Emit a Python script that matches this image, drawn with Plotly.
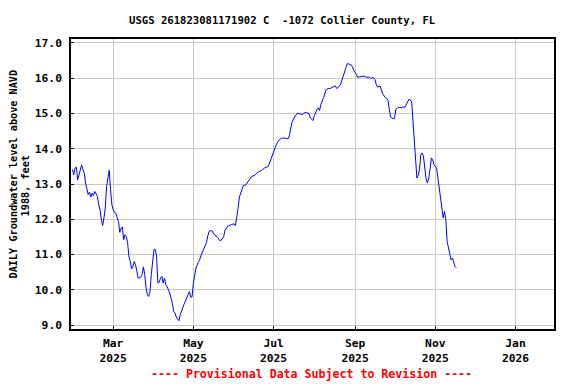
import plotly.graph_objects as go

# Daily groundwater level (feet above NAVD 1988)
dates = [
    "2025-01-29", "2025-01-30", "2025-01-31", "2025-02-01", "2025-02-02", "2025-02-03", "2025-02-04",
    "2025-02-05", "2025-02-06", "2025-02-07", "2025-02-08", "2025-02-09", "2025-02-10", "2025-02-11",
    "2025-02-12", "2025-02-13", "2025-02-14", "2025-02-15", "2025-02-16", "2025-02-17", "2025-02-18",
    "2025-02-19", "2025-02-20", "2025-02-21", "2025-02-22", "2025-02-23", "2025-02-24", "2025-02-25",
    "2025-02-26", "2025-02-27", "2025-02-28", "2025-03-01", "2025-03-02", "2025-03-03", "2025-03-04",
    "2025-03-05", "2025-03-06", "2025-03-07", "2025-03-08", "2025-03-09", "2025-03-10", "2025-03-11",
    "2025-03-12", "2025-03-13", "2025-03-14", "2025-03-15", "2025-03-16", "2025-03-17", "2025-03-18",
    "2025-03-19", "2025-03-20", "2025-03-22", "2025-03-23", "2025-03-24", "2025-03-25", "2025-03-26",
    "2025-03-27", "2025-03-28", "2025-03-29", "2025-03-30", "2025-03-31", "2025-04-01", "2025-04-02",
    "2025-04-03", "2025-04-04", "2025-04-05", "2025-04-06", "2025-04-07", "2025-04-08", "2025-04-09",
    "2025-04-10", "2025-04-11", "2025-04-13", "2025-04-14", "2025-04-15", "2025-04-16", "2025-04-17",
    "2025-04-18", "2025-04-19", "2025-04-20", "2025-04-21", "2025-04-22", "2025-04-23", "2025-04-24",
    "2025-04-26", "2025-04-27", "2025-04-28", "2025-04-29", "2025-04-30", "2025-05-01", "2025-05-02",
    "2025-05-03", "2025-05-05", "2025-05-06", "2025-05-07", "2025-05-08", "2025-05-10", "2025-05-11",
    "2025-05-12", "2025-05-13", "2025-05-15", "2025-05-17", "2025-05-19", "2025-05-21", "2025-05-22",
    "2025-05-24", "2025-05-25", "2025-05-27", "2025-05-30", "2025-06-01", "2025-06-02", "2025-06-03",
    "2025-06-04", "2025-06-05", "2025-06-07", "2025-06-08", "2025-06-10", "2025-06-12", "2025-06-14",
    "2025-06-17", "2025-06-19", "2025-06-22", "2025-06-24", "2025-06-27", "2025-06-28", "2025-06-30",
    "2025-07-01", "2025-07-03", "2025-07-05", "2025-07-07", "2025-07-10", "2025-07-12", "2025-07-13",
    "2025-07-14", "2025-07-15", "2025-07-17", "2025-07-19", "2025-07-21", "2025-07-23", "2025-07-24",
    "2025-07-26", "2025-07-28", "2025-07-29", "2025-07-31", "2025-08-01", "2025-08-03", "2025-08-04",
    "2025-08-05", "2025-08-06", "2025-08-08", "2025-08-09", "2025-08-10", "2025-08-12", "2025-08-13",
    "2025-08-15", "2025-08-17", "2025-08-18", "2025-08-19", "2025-08-21", "2025-08-22", "2025-08-23",
    "2025-08-25", "2025-08-26", "2025-08-27", "2025-08-29", "2025-08-30", "2025-08-31", "2025-09-02",
    "2025-09-03", "2025-09-04", "2025-09-06", "2025-09-08", "2025-09-10", "2025-09-11", "2025-09-12",
    "2025-09-13", "2025-09-15", "2025-09-16", "2025-09-17", "2025-09-18", "2025-09-20", "2025-09-21",
    "2025-09-22", "2025-09-24", "2025-09-25", "2025-09-26", "2025-09-27", "2025-09-28", "2025-09-30",
    "2025-10-01", "2025-10-02", "2025-10-04", "2025-10-06", "2025-10-07", "2025-10-09", "2025-10-10",
    "2025-10-11", "2025-10-12", "2025-10-14", "2025-10-15", "2025-10-16", "2025-10-17", "2025-10-18",
    "2025-10-19", "2025-10-20", "2025-10-21", "2025-10-22", "2025-10-23", "2025-10-24", "2025-10-25",
    "2025-10-26", "2025-10-27", "2025-10-28", "2025-10-29", "2025-10-30", "2025-10-31", "2025-11-02",
    "2025-11-03", "2025-11-04", "2025-11-05", "2025-11-06", "2025-11-07", "2025-11-08", "2025-11-09",
    "2025-11-10", "2025-11-11", "2025-11-12", "2025-11-13", "2025-11-14", "2025-11-15", "2025-11-16",
    "2025-11-17",
]

levels = [
    13.41, 13.26, 13.45, 13.48, 13.12, 13.26, 13.36,
    13.54, 13.41, 13.31, 13.03, 12.84, 12.70, 12.77,
    12.63, 12.74, 12.67, 12.79, 12.70, 12.65, 12.41,
    12.27, 11.99, 11.82, 12.04, 12.32, 12.93, 13.22,
    13.39, 12.84, 12.41, 12.27, 12.19, 12.18, 12.08,
    11.94, 11.63, 11.75, 11.78, 11.42, 11.56, 11.51,
    11.33, 10.93, 10.80, 10.59, 10.66, 10.80, 10.71,
    10.47, 10.33, 10.36, 10.43, 10.65, 10.43, 10.05,
    9.86, 9.81, 9.95, 10.43, 10.76, 11.14, 11.14,
    10.95, 10.19, 10.21, 10.33, 10.38, 10.19, 10.33,
    10.14, 10.09, 9.91, 9.77, 9.62, 9.39, 9.34,
    9.23, 9.18, 9.12, 9.29, 9.43, 9.50, 9.60,
    9.77, 9.89, 9.95, 9.79, 9.80, 10.19, 10.47,
    10.62, 10.80, 10.87, 10.99, 11.09, 11.23, 11.34,
    11.53, 11.66, 11.68, 11.56, 11.51, 11.40, 11.40,
    11.50, 11.68, 11.80, 11.85, 11.87, 11.82, 12.04,
    12.31, 12.63, 12.86, 12.95, 12.98, 13.09, 13.20,
    13.26, 13.33, 13.39, 13.45, 13.50, 13.60, 13.77,
    13.92, 14.11, 14.24, 14.30, 14.30, 14.28, 14.37,
    14.54, 14.75, 14.90, 15.01, 14.99, 14.97, 15.01,
    15.03, 14.99, 14.87, 14.80, 14.94, 15.11, 15.16,
    15.09, 15.26, 15.45, 15.59, 15.68, 15.71, 15.71,
    15.75, 15.78, 15.71, 15.73, 15.83, 15.97, 16.06,
    16.30, 16.41, 16.41, 16.38, 16.32, 16.22, 16.11,
    16.02, 16.04, 16.05, 16.06, 16.02, 16.04, 16.02,
    16.00, 16.02, 15.97, 15.83, 15.75, 15.78, 15.68,
    15.56, 15.45, 15.43, 15.37, 15.16, 14.90, 14.85,
    14.86, 15.12, 15.18, 15.16, 15.18, 15.18, 15.26,
    15.37, 15.41, 15.35, 14.82, 14.02, 13.64, 13.17,
    13.24, 13.41, 13.83, 13.88, 13.78, 13.36, 13.14,
    13.03, 13.17, 13.41, 13.74, 13.69, 13.55, 13.45,
    13.17, 12.74, 12.46, 12.18, 12.04, 12.22, 11.99,
    11.37, 11.18, 11.04, 10.85, 10.90, 10.76, 10.66,
    10.62,
]

x_tick_vals = ["2025-03-01", "2025-05-01", "2025-07-01", "2025-09-01", "2025-11-01", "2026-01-01"]
x_tick_text = ["Mar<br>2025", "May<br>2025", "Jul<br>2025", "Sep<br>2025", "Nov<br>2025", "Jan<br>2026"]
y_tick_vals = [9, 10, 11, 12, 13, 14, 15, 16, 17]

title_text = "USGS 261823081171902 C  -1072 Collier County, FL"
ytitle_line1 = "DAILY Groundwater level above NAVD"
ytitle_line2 = "1988, feet"
footer_text = "---- Provisional Data Subject to Revision ----"

FONT = "DejaVu Sans Mono"

fig = go.Figure()
fig.add_trace(go.Scatter(
    x=dates, y=levels, mode="lines",
    line=dict(color="#0000ff", width=1),
    showlegend=False, hoverinfo="x+y",
))

axis_common = dict(
    showline=True, linecolor="black", linewidth=1.5, mirror=True,
    showgrid=True, gridcolor="#c8c8c8", gridwidth=1,
    zeroline=False,
    tickfont=dict(family=FONT, size=11.3, color="black", weight="bold"),
    ticks="inside", ticklen=3, tickcolor="black",
)

fig.update_layout(
    width=576, height=384,
    # the page body adds an 8px offset; margins compensate so the frame matches
    margin=dict(l=63, r=29.5, t=31, b=62.7),
    paper_bgcolor="white", plot_bgcolor="white",
    xaxis=dict(
        type="date",
        range=["2025-01-27 22:00", "2026-01-30 07:00"],
        tickmode="array", tickvals=x_tick_vals, ticktext=x_tick_text,
        ticklabelstandoff=3,
        **axis_common,
    ),
    yaxis=dict(
        range=[8.887, 17.113],
        tickmode="array", tickvals=y_tick_vals, tickformat=".1f",
        ticklabelstandoff=5,
        **axis_common,
    ),
    annotations=[
        dict(text=title_text, xref="paper", yref="paper", x=0.4374, y=1.065,
             xanchor="center", yanchor="middle", showarrow=False,
             font=dict(family=FONT, size=10.6, color="black", weight="bold")),
        dict(text=ytitle_line1, xref="paper", yref="paper", x=-0.1189, y=0.535,
             xanchor="center", yanchor="middle", showarrow=False, textangle=-90,
             font=dict(family=FONT, size=10.2, color="black", weight="bold")),
        dict(text=ytitle_line2, xref="paper", yref="paper", x=-0.0951, y=0.492,
             xanchor="center", yanchor="middle", showarrow=False, textangle=-90,
             font=dict(family=FONT, size=10.2, color="black", weight="bold")),
        dict(text=footer_text, xref="paper", yref="paper", x=0.497, y=-0.154,
             xanchor="center", yanchor="middle", showarrow=False,
             font=dict(family=FONT, size=11.6, color="red", weight="bold")),
    ],
)

fig.write_html("out.html")
